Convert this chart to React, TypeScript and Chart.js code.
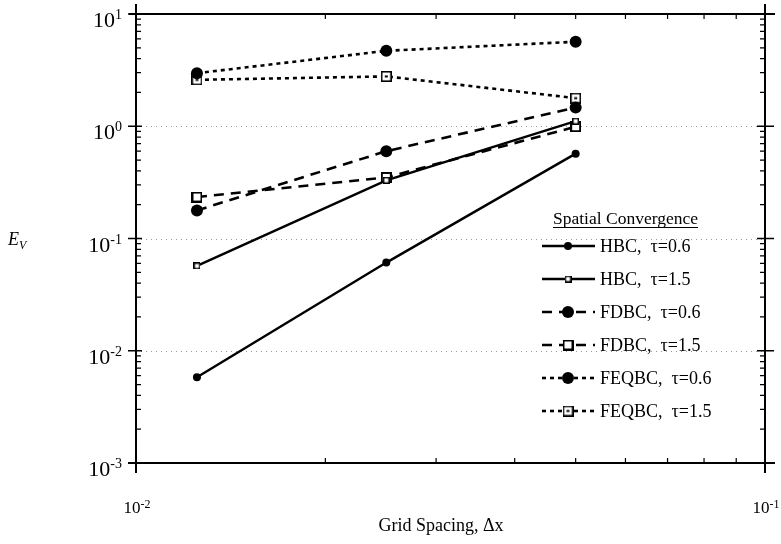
import React, { useEffect, useRef } from "react";
import { Chart, registerables } from "chart.js";

Chart.register(...registerables);

// ---- data ----
const gridSpacing = [0.0125, 0.025, 0.05];
const hbcTau06 = [0.0058, 0.061, 0.57];
const hbcTau15 = [0.057, 0.33, 1.11];
const fdbcTau06 = [0.178, 0.6, 1.47];
const fdbcTau15 = [0.234, 0.35, 0.99];
const feqbcTau06 = [2.97, 4.7, 5.66];
const feqbcTau15 = [2.59, 2.78, 1.78];

const seriesLabels = [
  "HBC,  \u03c4=0.6",
  "HBC,  \u03c4=1.5",
  "FDBC,  \u03c4=0.6",
  "FDBC,  \u03c4=1.5",
  "FEQBC,  \u03c4=0.6",
  "FEQBC,  \u03c4=1.5",
];
const xTickValues = [0.01, 0.1];
const yTickValues = [0.001, 0.01, 0.1, 1, 10];
const xMinorValues = [0.02, 0.03, 0.04, 0.05, 0.06, 0.07, 0.08, 0.09];
const yMinorMultipliers = [2, 3, 4, 5, 6, 7, 8, 9];
const yMinorDecades = [0.001, 0.01, 0.1, 1];
const gridLineValues = [0.01, 0.1, 1];
const legendTitle = "Spatial Convergence";
const xAxisTitle = "Grid Spacing, \u0394x";
const yAxisTitle = "E";
const yAxisSub = "V";

const SERIF = '"Liberation Serif", "Times New Roman", serif';

function makeSquare(size: number, lw: number, dot: boolean): HTMLCanvasElement {
  const c = document.createElement("canvas");
  c.width = size;
  c.height = size;
  const ctx = c.getContext("2d")!;
  ctx.fillStyle = "#fff";
  ctx.fillRect(0, 0, size, size);
  ctx.strokeStyle = "#000";
  ctx.lineWidth = lw;
  ctx.strokeRect(lw / 2, lw / 2, size - lw, size - lw);
  if (dot) {
    ctx.fillStyle = "#000";
    ctx.fillRect(size / 2 - 1.5, size / 2 - 1, 3, 2);
  }
  return c;
}

function expLabel(v: number): string {
  const e = Math.round(Math.log10(v));
  return e < 0 ? "-" + String(-e) : String(e);
}

const axesPlugin = {
  id: "paperAxes",
  beforeDatasetsDraw(chart: any) {
    const { ctx, chartArea } = chart;
    const y = chart.scales.y;
    ctx.save();
    ctx.strokeStyle = "#9a9a9a";
    ctx.lineWidth = 1;
    ctx.setLineDash([1, 4]);
    gridLineValues.forEach((v) => {
      const py = Math.round(y.getPixelForValue(v)) + 0.5;
      ctx.beginPath();
      ctx.moveTo(chartArea.left, py);
      ctx.lineTo(chartArea.right, py);
      ctx.stroke();
    });
    ctx.restore();
  },
  afterDatasetsDraw(chart: any) {
    const { ctx, chartArea } = chart;
    const L = chartArea.left;
    const R = chartArea.right;
    const T = chartArea.top;
    const B = chartArea.bottom;
    const xs = chart.scales.x;
    const ys = chart.scales.y;
    ctx.save();
    ctx.setLineDash([]);
    ctx.strokeStyle = "#000";
    // frame
    ctx.lineWidth = 2;
    ctx.beginPath();
    ctx.moveTo(L, T - 10);
    ctx.lineTo(L, B + 10);
    ctx.moveTo(R, T - 10);
    ctx.lineTo(R, B + 10);
    ctx.moveTo(L - 7, T);
    ctx.lineTo(R + 10, T);
    ctx.moveTo(L - 8, B);
    ctx.lineTo(R + 10, B);
    ctx.stroke();

    // y minor ticks
    ctx.lineWidth = 1.2;
    ctx.beginPath();
    yMinorDecades.forEach((d) => {
      yMinorMultipliers.forEach((m) => {
        const py = ys.getPixelForValue(m * d);
        ctx.moveTo(L, py);
        ctx.lineTo(L + 5, py);
        ctx.moveTo(R - 5, py);
        ctx.lineTo(R, py);
      });
    });
    // x minor ticks
    xMinorValues.forEach((v) => {
      const px = xs.getPixelForValue(v);
      ctx.moveTo(px, B);
      ctx.lineTo(px, B - 5);
      ctx.moveTo(px, T);
      ctx.lineTo(px, T + 5);
    });
    ctx.stroke();

    // y major ticks
    ctx.lineWidth = 1.6;
    ctx.beginPath();
    yTickValues.forEach((v) => {
      const py = ys.getPixelForValue(v);
      ctx.moveTo(L - 8, py);
      ctx.lineTo(L + 6, py);
      ctx.moveTo(R - 8, py);
      ctx.lineTo(R + 9, py);
    });
    ctx.stroke();

    // y tick labels
    ctx.fillStyle = "#000";
    ctx.textAlign = "left";
    ctx.textBaseline = "alphabetic";
    yTickValues.forEach((v) => {
      const py = ys.getPixelForValue(v);
      const ex = expLabel(v);
      ctx.font = `14px ${SERIF}`;
      const we = ctx.measureText(ex).width;
      ctx.font = `22px ${SERIF}`;
      const wb = ctx.measureText("10").width;
      const xr = L - 14;
      ctx.fillText("10", xr - we - wb, py + 13);
      ctx.font = `14px ${SERIF}`;
      ctx.fillText(ex, xr - we, py + 5);
    });

    // x tick labels
    xTickValues.forEach((v) => {
      const px = xs.getPixelForValue(v);
      const ex = expLabel(v);
      ctx.font = `12px ${SERIF}`;
      const we = ctx.measureText(ex).width;
      ctx.font = `17px ${SERIF}`;
      const wb = ctx.measureText("10").width;
      const x0 = px - (wb + we) / 2 + 1;
      ctx.fillText("10", x0, B + 50);
      ctx.font = `12px ${SERIF}`;
      ctx.fillText(ex, x0 + wb, B + 45);
    });

    // axis titles
    ctx.font = `18px ${SERIF}`;
    ctx.textAlign = "center";
    ctx.fillText(xAxisTitle, 441, 531);
    ctx.textAlign = "left";
    ctx.font = `italic 18px ${SERIF}`;
    ctx.fillText(yAxisTitle, 8, 245);
    const we = ctx.measureText(yAxisTitle).width;
    ctx.font = `italic 12px ${SERIF}`;
    ctx.fillText(yAxisSub, 8 + we, 249);

    // legend
    ctx.font = `17.5px ${SERIF}`;
    ctx.textAlign = "left";
    const tw = ctx.measureText(legendTitle).width;
    const tx = 553;
    ctx.fillText(legendTitle, tx, 224);
    ctx.lineWidth = 1.2;
    ctx.beginPath();
    ctx.moveTo(tx, 227.5);
    ctx.lineTo(tx + tw, 227.5);
    ctx.stroke();

    const rowY0 = 246;
    const rowStep = 33;
    chart.data.datasets.forEach((ds: any, i: number) => {
      const ry = rowY0 + i * rowStep;
      ctx.save();
      ctx.lineWidth = ds.borderWidth;
      ctx.setLineDash(ds.borderDash || []);
      ctx.beginPath();
      ctx.moveTo(542, ry);
      ctx.lineTo(595, ry);
      ctx.stroke();
      ctx.restore();
      const mx = 568;
      if (typeof ds.pointStyle === "string") {
        ctx.beginPath();
        ctx.arc(mx, ry, ds.pointRadius, 0, Math.PI * 2);
        ctx.fillStyle = "#000";
        ctx.fill();
      } else {
        const img = ds.pointStyle as HTMLCanvasElement;
        ctx.drawImage(img, mx - img.width / 2, ry - img.height / 2);
      }
      ctx.fillStyle = "#000";
      ctx.font = `18px ${SERIF}`;
      ctx.fillText(ds.label, 600, ry + 6);
    });

    ctx.restore();
  },
};

export default function App() {
  const canvasRef = useRef<HTMLCanvasElement | null>(null);

  useEffect(() => {
    const canvas = canvasRef.current;
    if (!canvas) return;
    const smallSquare = makeSquare(7, 1.5, false);
    const bigSquare = makeSquare(11, 2, false);
    const dotSquare = makeSquare(11, 1.6, true);

    const toPoints = (vals: number[]) => gridSpacing.map((x, i) => ({ x, y: vals[i] }));
    const base = {
      showLine: true,
      borderColor: "#000",
      backgroundColor: "#000",
      pointBackgroundColor: "#000",
      pointBorderColor: "#000",
      pointBorderWidth: 0,
      fill: false,
      tension: 0,
    };

    const chart = new Chart(canvas, {
      type: "scatter",
      data: {
        datasets: [
          { ...base, label: seriesLabels[0], data: toPoints(hbcTau06), borderWidth: 2.4, borderDash: [], pointStyle: "circle", pointRadius: 4 },
          { ...base, label: seriesLabels[1], data: toPoints(hbcTau15), borderWidth: 2.4, borderDash: [], pointStyle: smallSquare, pointRadius: 4 },
          { ...base, label: seriesLabels[2], data: toPoints(fdbcTau06), borderWidth: 2.6, borderDash: [10, 7], pointStyle: "circle", pointRadius: 6 },
          { ...base, label: seriesLabels[3], data: toPoints(fdbcTau15), borderWidth: 2.6, borderDash: [10, 7], pointStyle: bigSquare, pointRadius: 6 },
          { ...base, label: seriesLabels[4], data: toPoints(feqbcTau06), borderWidth: 2.6, borderDash: [4, 4], pointStyle: "circle", pointRadius: 6 },
          { ...base, label: seriesLabels[5], data: toPoints(feqbcTau15), borderWidth: 2.6, borderDash: [4, 4], pointStyle: dotSquare, pointRadius: 6 },
        ] as any,
      },
      options: {
        responsive: false,
        animation: false,
        devicePixelRatio: 1,
        layout: { padding: { left: 136, right: 16, top: 14, bottom: 81 } },
        plugins: { legend: { display: false }, tooltip: { enabled: false } },
        scales: {
          x: { type: "logarithmic", min: 0.01, max: 0.1, display: false },
          y: { type: "logarithmic", min: 0.001, max: 10, display: false },
        },
        events: [],
      } as any,
      plugins: [axesPlugin],
    });
    return () => chart.destroy();
  }, []);

  return (
    <div style={{ position: "fixed", left: 0, top: 0, width: 781, height: 544, background: "#fff" }}>
      <canvas ref={canvasRef} width={781} height={544} style={{ display: "block" }} />
    </div>
  );
}
